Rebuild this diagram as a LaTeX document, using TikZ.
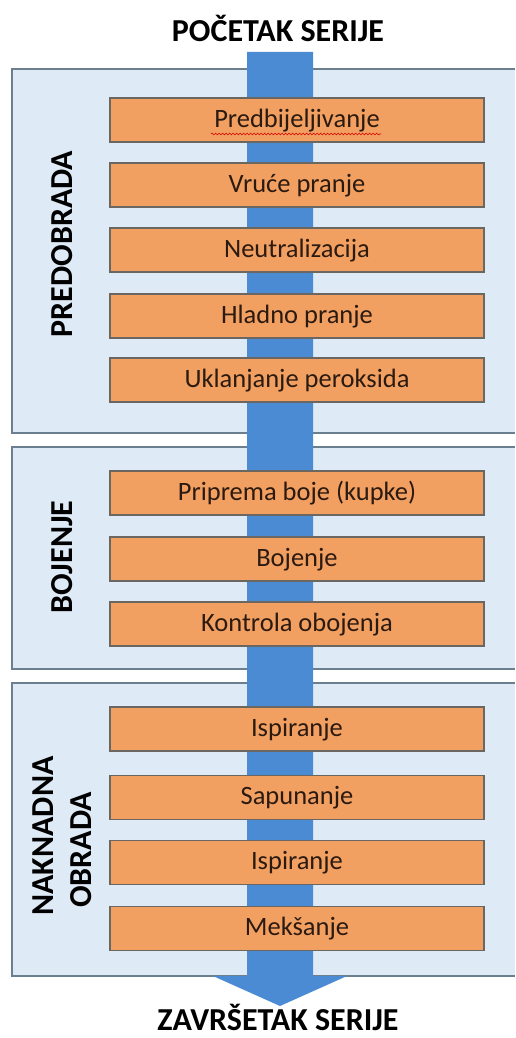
\documentclass[tikz,border=0pt]{standalone}
\usepackage{fontspec}
\setmainfont{Carlito}
\usetikzlibrary{decorations.pathmorphing}
\definecolor{panelfill}{HTML}{DEEBF7}
\definecolor{panelline}{HTML}{6C7F8E}
\definecolor{stepfill}{HTML}{F2A062}
\definecolor{stepline}{HTML}{6A6662}
\definecolor{flow}{HTML}{4A8BD3}
\definecolor{txt}{HTML}{2B1A10}
\tikzset{
  stepbox/.style={draw=stepline, line width=1.2pt, fill=stepfill, minimum width=374pt, minimum height=44pt, inner sep=0pt, text height=17pt, text depth=2.6pt, text=txt, font=\fontsize{26.5}{28}\selectfont},
  paneltitle/.style={rotate=90, font=\bfseries\fontsize{32}{34}\selectfont, text=black, inner sep=0pt},
  endtitle/.style={font=\bfseries\fontsize{32}{34}\selectfont, text=black, inner sep=0pt, anchor=base},
  panelborder/.style={draw=panelline, line width=1.2pt}
}
\begin{document}
\begin{tikzpicture}[x=1pt,y=-1pt]
\useasboundingbox (0,0) rectangle (515,1038);
\fill[white] (0,0) rectangle (515,1038);
% panels
\fill[panelfill] (12,69) rectangle (515,433);
\draw[panelborder] (515,69) -- (12,69) -- (12,433) -- (515,433);
\fill[panelfill] (12,447) rectangle (515,669);
\draw[panelborder] (515,447) -- (12,447) -- (12,669) -- (515,669);
\fill[panelfill] (12,683) rectangle (515,976);
\draw[panelborder] (515,683) -- (12,683) -- (12,976) -- (515,976);
% titles
\node[endtitle] (start) at (278,42) {POČETAK SERIJE};
\node[endtitle] (end) at (278,1030) {ZAVRŠETAK SERIJE};
% flow arrow
\coordinate (top) at (280,52);
\coordinate (tip) at (280,1006);
\fill[flow] ([xshift=-33pt]top) -- ([xshift=33pt]top) -- ([xshift=33pt,yshift=30pt]tip) -- ([xshift=67pt,yshift=30pt]tip) -- (tip) -- ([xshift=-67pt,yshift=30pt]tip) -- ([xshift=-33pt,yshift=30pt]tip) -- cycle;
% panel labels
\node[paneltitle] (l1) at (62,244) {PREDOBRADA};
\node[paneltitle] (l2) at (62,557) {BOJENJE};
\node[paneltitle] (l3a) at (43,836) {NAKNADNA};
\node[paneltitle] (l3b) at (81,850) {OBRADA};
% steps
\node[stepbox] (s1) at (297,120) {Predbijeljivanje};
\node[stepbox] (s2) at (297,185) {Vruće pranje};
\node[stepbox] (s3) at (297,250) {Neutralizacija};
\node[stepbox] (s4) at (297,316) {Hladno pranje};
\node[stepbox] (s5) at (297,380) {Uklanjanje peroksida};
\node[stepbox] (s6) at (297,493) {Priprema boje (kupke)};
\node[stepbox] (s7) at (297,559) {Bojenje};
\node[stepbox] (s8) at (297,624) {Kontrola obojenja};
\node[stepbox] (s9) at (297,729) {Ispiranje};
\node[stepbox] (s10) at (297,797.5) {Sapunanje};
\node[stepbox] (s11) at (297,862.5) {Ispiranje};
\node[stepbox] (s12) at (297,928.5) {Mekšanje};
% spell-check underline
\draw[red!85!black, line width=0.6pt, decorate, decoration={snake, amplitude=0.9pt, segment length=3.5pt}] (211,134) -- (381,134);
\end{tikzpicture}
\end{document}
